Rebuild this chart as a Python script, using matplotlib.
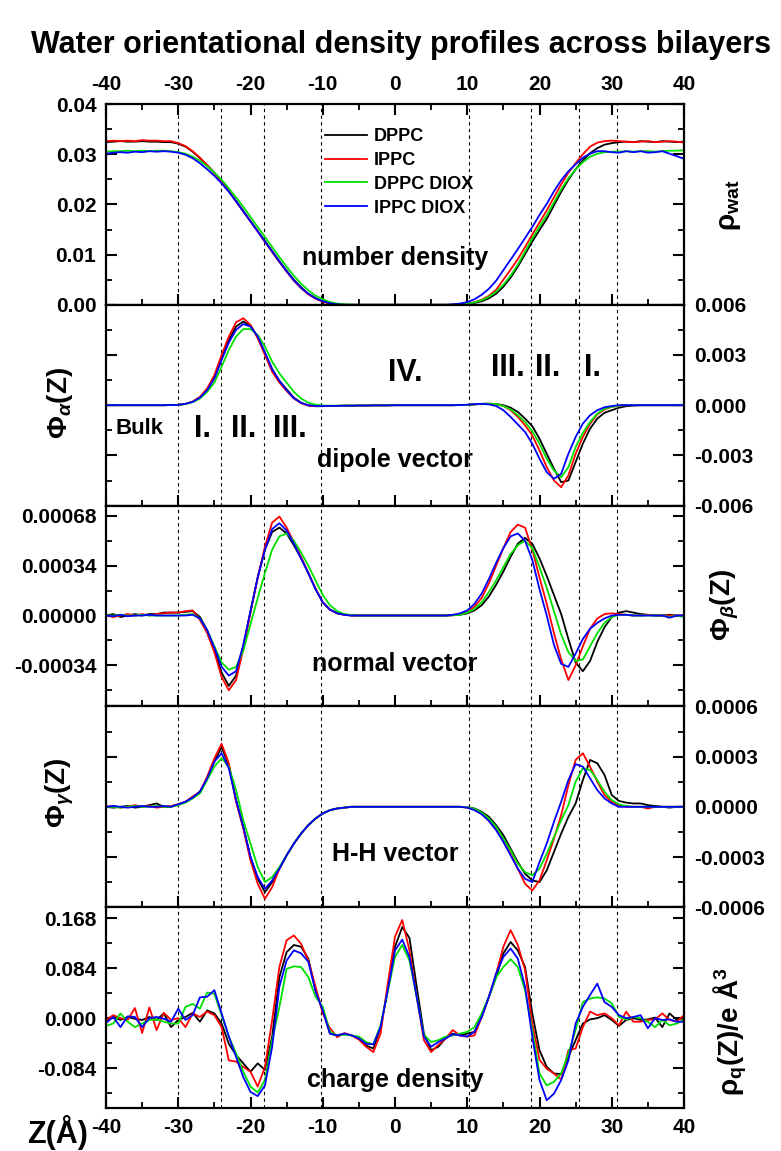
import numpy as np
import matplotlib
matplotlib.use('Agg')
import matplotlib.pyplot as plt
from matplotlib.ticker import MultipleLocator, FormatStrFormatter

W, H = 781, 1151

# distance from bilayer centre (Angstrom)
z = list(range(-40, 41))

series_names = ['DPPC', 'IPPC', 'DPPC DIOX', 'IPPC DIOX']
series_colors = ['black', 'red', '#00e000', 'blue']

# region boundaries (dashed lines)
region_bounds = [-30, -24.1, -18.2, -10.2, 10.3, 18.8, 25.4, 30.7]

# number density, units of 1e-3
DENS_UNIT = 1e-3
dens_dppc = [32.4, 32.5, 32.6, 32.5, 32.5, 32.6, 32.5, 32.5, 32.4, 32.4,
             32.1, 31.5, 30.5, 29.2, 27.8, 26.3, 24.6, 22.7, 20.7, 18.7,
             16.7, 14.7, 12.7, 10.7, 8.7, 6.8, 5.0, 3.5, 2.2, 1.3,
             0.7, 0.3, 0.1, 0, 0, 0, 0, 0, 0, 0,
             0, 0, 0, 0, 0, 0, 0, 0, 0, 0.05,
             0.15, 0.35, 0.7, 1.3, 2.2, 3.6, 5.4, 7.6, 10.1, 12.6,
             14.9, 17.1, 19.8, 22.5, 24.9, 27.0, 28.8, 30.2, 31.2, 31.9,
             32.2, 32.4, 32.5, 32.4, 32.6, 32.5, 32.4, 32.6, 32.5, 32.4,
             32.5]
dens_ippc = [32.6, 32.7, 32.6, 32.7, 32.6, 32.8, 32.7, 32.7, 32.6, 32.6,
             32.2, 31.6, 30.6, 29.3, 27.8, 26.2, 24.5, 22.6, 20.6, 18.6,
             16.6, 14.6, 12.5, 10.5, 8.5, 6.6, 4.8, 3.3, 2.1, 1.2,
             0.6, 0.25, 0.1, 0, 0, 0, 0, 0, 0, 0,
             0, 0, 0, 0, 0, 0, 0, 0, 0, 0.1,
             0.25, 0.5, 1.0, 1.8, 3.0, 5.0, 7.0, 9.1, 11.5, 14.0,
             16.4, 18.8, 21.4, 24.0, 26.3, 28.2, 30.0, 31.5, 32.3, 32.6,
             32.7, 32.6, 32.5, 32.4, 32.5, 32.6, 32.4, 32.5, 32.6, 32.5,
             32.3]
dens_dppc_diox = [30.5, 30.6, 30.6, 30.7, 30.6, 30.7, 30.6, 30.7, 30.7, 30.6,
                  30.4, 30.1, 29.5, 28.7, 27.6, 26.3, 24.9, 23.2, 21.4, 19.5,
                  17.5, 15.5, 13.5, 11.5, 9.5, 7.6, 5.8, 4.2, 2.9, 1.8,
                  1.1, 0.55, 0.25, 0.1, 0.03, 0, 0, 0, 0, 0,
                  0, 0, 0, 0, 0, 0, 0, 0, 0, 0.05,
                  0.2, 0.45, 0.9, 1.6, 2.6, 4.0, 5.8, 8.0, 10.6, 13.2,
                  15.6, 17.8, 20.4, 23.0, 25.2, 27.0, 28.4, 29.5, 30.1, 30.4,
                  30.5, 30.5, 30.6, 30.5, 30.6, 30.6, 30.5, 30.6, 30.7, 30.7,
                  30.8]
dens_ippc_diox = [30.1, 30.3, 30.4, 30.3, 30.5, 30.4, 30.6, 30.5, 30.6, 30.5,
                  30.3, 29.9, 29.2, 28.2, 27.0, 25.7, 24.2, 22.5, 20.6, 18.6,
                  16.6, 14.6, 12.6, 10.6, 8.6, 6.7, 4.9, 3.4, 2.2, 1.3,
                  0.7, 0.3, 0.1, 0, 0, 0, 0, 0, 0, 0,
                  0, 0, 0, 0, 0, 0, 0, 0, 0.1, 0.25,
                  0.55, 1.1, 2.0, 3.2, 4.8, 6.9, 9.0, 11.1, 13.3, 15.5,
                  17.9, 20.1, 22.6, 24.8, 26.6, 28.0, 29.3, 30.1, 30.6, 30.6,
                  30.4, 30.3, 30.6, 30.4, 30.6, 30.3, 30.4, 30.6, 30.1, 29.6,
                  29.1]

# dipole vector, units of 1e-3
DIP_UNIT = 1e-3
dip_dppc = [0, 0, 0, 0, 0, 0, 0, 0, 0, 0.01,
            0.02, 0.08, 0.2, 0.45, 0.9, 1.65, 2.8, 3.9, 4.7, 5.0,
            4.75, 4.1, 3.1, 2.15, 1.45, 0.95, 0.45, 0.15, -0.02, -0.06,
            -0.06, -0.05, -0.04, -0.03, -0.03, -0.02, -0.02, -0.01, -0.01, -0.01,
            0, 0, 0, 0, 0, 0, 0, 0, 0, 0.01,
            0.02, 0.05, 0.08, 0.09, 0.07, 0.0, -0.15, -0.4, -0.8, -1.25,
            -2.0, -2.9, -3.8, -4.6, -4.5, -3.4, -2.3, -1.4, -0.8, -0.45,
            -0.3, -0.15, -0.06, -0.02, 0, 0, 0, 0, 0, 0,
            0]
dip_ippc = [0, 0, 0, 0, 0, 0, 0, 0, 0, 0.01,
            0.02, 0.08, 0.22, 0.5, 1.0, 1.8, 3.0, 4.1, 4.95, 5.2,
            4.8, 4.0, 3.0, 2.0, 1.35, 0.85, 0.4, 0.12, -0.02, -0.06,
            -0.05, -0.05, -0.04, -0.03, -0.03, -0.02, -0.02, -0.01, -0.01, -0.01,
            0, 0, 0, 0, 0, 0, 0, 0, 0, 0.01,
            0.02, 0.05, 0.08, 0.08, 0.06, -0.05, -0.3, -0.7, -1.2, -1.8,
            -2.7, -3.7, -4.5, -4.9, -4.2, -2.9, -1.9, -1.1, -0.55, -0.25,
            -0.1, -0.03, 0, 0, 0, 0, 0, 0, 0, 0,
            0]
dip_dppc_diox = [0, 0, 0, 0, 0, 0, 0, 0, 0, 0.01,
                 0.02, 0.07, 0.18, 0.4, 0.8, 1.35, 2.3, 3.3, 4.1, 4.55,
                 4.55, 4.2, 3.5, 2.6, 1.9, 1.35, 0.8, 0.4, 0.15, 0.03,
                 -0.02, -0.03, -0.03, -0.02, -0.02, -0.02, -0.01, -0.01, -0.01, 0,
                 0, 0, 0, 0, 0, 0, 0, 0, 0, 0.01,
                 0.02, 0.05, 0.08, 0.09, 0.07, -0.05, -0.25, -0.6, -1.0, -1.55,
                 -2.3, -3.2, -3.9, -4.3, -3.7, -2.5, -1.65, -1.0, -0.5, -0.2,
                 -0.1, -0.03, 0, 0, 0, 0, 0, 0, 0, 0,
                 0]
dip_ippc_diox = [0, 0, 0, 0, 0, 0, 0, 0, 0, 0.01,
                 0.02, 0.08, 0.2, 0.45, 0.9, 1.6, 2.7, 3.75, 4.5, 4.85,
                 4.7, 4.1, 3.15, 2.15, 1.45, 0.9, 0.42, 0.14, 0.0, -0.05,
                 -0.05, -0.04, -0.04, -0.03, -0.03, -0.02, -0.02, -0.01, -0.01, -0.01,
                 0, 0, 0, 0, 0, 0, 0, 0, 0, 0.01,
                 0.03, 0.06, 0.08, 0.05, -0.05, -0.3, -0.7, -1.15, -1.6, -2.3,
                 -3.2, -4.0, -4.4, -4.1, -2.9, -1.9, -1.1, -0.6, -0.3, -0.12,
                 -0.05, 0, 0, 0, 0, 0, 0, 0, 0, 0,
                 0]

# normal vector, units of 1e-4
NORM_UNIT = 1e-4
norm_dppc = [0.0, 0.1, -0.1, 0.0, 0.1, 0.0, 0.1, 0.1, 0.2, 0.2,
             0.2, 0.25, 0.3, -0.1, -1.0, -2.3, -3.9, -4.8, -4.1, -2.1,
             0.3, 2.6, 4.5, 5.7, 6.0, 5.6, 4.8, 3.9, 2.9, 1.8,
             0.9, 0.4, 0.15, 0.05, 0, 0, 0, 0, 0, 0,
             0, 0, 0, 0, 0, 0, 0, 0, 0.02, 0.05,
             0.15, 0.35, 0.7, 1.3, 2.1, 3.0, 4.0, 4.9, 5.3, 4.9,
             3.9, 2.7, 1.4, 0.1, -1.6, -3.2, -3.8, -3.1, -1.8, -0.8,
             -0.1, 0.2, 0.3, 0.2, 0.1, 0.05, 0.0, 0.0, 0.05, 0.0,
             0.0]
norm_ippc = [0.0, -0.1, 0.0, 0.1, 0.0, 0.1, 0.0, 0.1, 0.15, 0.2,
             0.2, 0.3, 0.35, -0.3, -1.2, -2.5, -4.2, -5.1, -4.4, -2.3,
             0.2, 2.6, 4.7, 6.35, 6.75, 6.0, 5.0, 4.0, 2.9, 1.85,
             0.9, 0.4, 0.15, 0.05, 0, 0, 0, 0, 0, 0,
             0, 0, 0, 0, 0, 0, 0, 0, 0.02, 0.1,
             0.25, 0.6, 1.2, 2.2, 3.4, 4.6, 5.7, 6.2, 6.0, 4.5,
             2.6, 0.8, -1.2, -3.0, -4.4, -3.4, -2.1, -0.9, -0.2, 0.1,
             0.15, 0.1, 0.05, 0.0, 0.0, 0.05, 0.0, 0.0, 0.0, 0.0,
             0.0]
norm_dppc_diox = [0, 0, 0.05, 0, 0, 0.05, 0, 0, 0, 0,
                  0.0, 0.05, 0.1, -0.2, -1.0, -2.1, -3.2, -3.7, -3.5, -2.4,
                  -0.6, 1.2, 2.9, 4.5, 5.4, 5.6, 5.1, 4.3, 3.4, 2.4,
                  1.4, 0.7, 0.3, 0.1, 0.03, 0, 0, 0, 0, 0,
                  0, 0, 0, 0, 0, 0, 0, 0, 0.02, 0.05,
                  0.2, 0.45, 0.9, 1.6, 2.4, 3.3, 4.2, 4.8, 5.1, 4.6,
                  3.3, 1.9, 0.3, -1.3, -2.5, -3.1, -3.0, -2.1, -1.2, -0.5,
                  -0.1, 0.05, 0.05, 0, 0, 0, 0, 0, -0.1, 0,
                  -0.1]
norm_ippc_diox = [0.0, -0.05, 0.05, -0.05, 0.0, 0.0, 0.05, 0.0, 0.0, 0.0,
                  0.0, 0.0, 0.05, -0.2, -1.0, -2.2, -3.5, -4.1, -3.8, -2.0,
                  0.3, 2.6, 4.5, 5.9, 6.3, 5.8, 4.9, 3.9, 2.9, 1.8,
                  0.9, 0.4, 0.15, 0.05, 0, 0, 0, 0, 0, 0,
                  0, 0, 0, 0, 0, 0, 0, 0, 0.05, 0.15,
                  0.35, 0.8, 1.5, 2.5, 3.6, 4.6, 5.4, 5.6, 5.1, 3.8,
                  1.8, 0.0, -2.0, -3.3, -3.5, -2.6, -1.6, -0.9, -0.5, -0.2,
                  0.0, 0.05, 0.05, 0.0, 0.0, 0.0, 0.0, 0.0, -0.15, 0.0,
                  0.0]

# H-H vector, units of 1e-4
HH_UNIT = 1e-4
hh_dppc = [0.0, -0.05, 0.0, 0.05, -0.05, 0.0, 0.1, 0.2, 0.0, 0.0,
           0.15, 0.3, 0.6, 0.9, 1.7, 2.7, 3.57, 2.5, 0.4, -1.2,
           -3.0, -4.3, -5.1, -4.5, -3.7, -2.9, -2.2, -1.6, -1.1, -0.7,
           -0.4, -0.2, -0.1, -0.05, 0, 0, 0, 0, 0, 0,
           0, 0, 0, 0, 0, 0, 0, 0, 0, 0,
           -0.03, -0.1, -0.3, -0.6, -1.1, -1.7, -2.5, -3.3, -4.0, -4.4,
           -4.5, -3.8, -2.7, -1.6, -0.6, 0.2, 1.6, 2.8, 2.6, 1.9,
           0.7, 0.35, 0.25, 0.2, 0.2, 0.1, 0.05, 0.0, -0.05, 0.0,
           0.0]
hh_ippc = [0.0, 0.05, -0.05, 0.0, 0.1, 0.0, 0.05, -0.05, 0.0, 0.05,
           0.15, 0.3, 0.6, 0.9, 1.8, 2.9, 3.77, 2.6, 0.3, -1.3,
           -3.2, -4.6, -5.5, -4.8, -3.7, -2.9, -2.2, -1.6, -1.1, -0.7,
           -0.4, -0.2, -0.1, -0.05, 0, 0, 0, 0, 0, 0,
           0, 0, 0, 0, 0, 0, 0, 0, 0, 0,
           -0.05, -0.15, -0.4, -0.8, -1.3, -2.0, -2.8, -3.7, -4.6, -5.0,
           -4.4, -3.2, -1.9, -0.5, 1.3, 2.8, 3.2, 2.4, 1.5, 0.7,
           0.3, 0.1, 0.0, 0.0, 0.0, -0.1, 0.0, 0.0, 0.0, 0.0,
           0.0]
hh_dppc_diox = [0.0, 0.0, -0.05, 0.0, 0.05, 0.0, 0.0, 0.05, 0.0, 0.0,
                0.1, 0.25, 0.5, 0.8, 1.6, 2.4, 2.9, 2.4, 1.0, -0.8,
                -2.2, -3.6, -4.5, -4.2, -3.6, -2.9, -2.2, -1.6, -1.1, -0.7,
                -0.4, -0.2, -0.1, -0.05, 0, 0, 0, 0, 0, 0,
                0, 0, 0, 0, 0, 0, 0, 0, 0, 0,
                -0.03, -0.12, -0.35, -0.7, -1.2, -1.9, -2.6, -3.4, -3.9, -4.1,
                -3.7, -2.8, -1.8, -0.8, 0.1, 1.5, 2.3, 2.2, 1.6, 0.9,
                0.4, 0.15, 0.05, 0.0, 0.0, 0.0, 0.0, 0.0, 0.0, 0.0,
                0.0]
hh_ippc_diox = [0.0, 0.05, 0.0, -0.05, 0.0, 0.05, 0.0, 0.0, 0.05, 0.0,
                0.15, 0.3, 0.55, 0.9, 1.7, 2.7, 3.2, 2.3, 0.4, -1.2,
                -3.0, -4.2, -4.9, -4.4, -3.7, -2.9, -2.2, -1.6, -1.1, -0.7,
                -0.4, -0.2, -0.1, -0.05, 0, 0, 0, 0, 0, 0,
                0, 0, 0, 0, 0, 0, 0, 0, 0, 0,
                -0.05, -0.2, -0.45, -0.85, -1.4, -2.1, -2.9, -3.7, -4.3, -4.5,
                -3.3, -2.2, -0.9, 0.3, 1.6, 2.55, 2.4, 1.7, 1.0, 0.5,
                0.2, 0.0, 0.0, 0.0, 0.0, 0.0, 0.0, 0.0, 0.0, 0.0,
                0.0]

# charge density (e / A^3)
chg_dppc = [-0.006, 0.002, -0.003, 0.002, -0.001, -0.003, 0.002, -0.003, 0.008, -0.015,
            -0.003, 0.002, 0.009, -0.006, 0.013, 0.008, -0.009, -0.043, -0.062, -0.076,
            -0.09, -0.076, -0.087, -0.031, 0.069, 0.111, 0.123, 0.12, 0.1, 0.047,
            0.013, -0.026, -0.029, -0.026, -0.029, -0.034, -0.046, -0.051, -0.015, 0.047,
            0.12, 0.153, 0.135, 0.053, -0.026, -0.054, -0.048, -0.034, -0.026, -0.029,
            -0.026, -0.023, 0.002, 0.036, 0.069, 0.109, 0.128, 0.114, 0.086, 0.008,
            -0.054, -0.082, -0.093, -0.094, -0.065, -0.037, -0.009, -0.002, 0.0, 0.005,
            -0.003, -0.013, -0.003, 0.0, -0.003, -0.002, 0.001, -0.015, 0.008, -0.003,
            0.0]
chg_ippc = [-0.003, 0.005, 0.0, -0.003, 0.017, -0.025, 0.018, -0.02, 0.009, -0.003,
            0.0, -0.015, 0.008, 0.002, 0.011, 0.005, -0.015, -0.071, -0.073, -0.082,
            -0.09, -0.115, -0.082, -0.003, 0.086, 0.131, 0.139, 0.125, 0.097, 0.053,
            0.008, -0.017, -0.032, -0.025, -0.029, -0.036, -0.048, -0.057, -0.026, 0.058,
            0.137, 0.165, 0.114, 0.036, -0.037, -0.057, -0.045, -0.034, -0.02, -0.029,
            -0.031, -0.029, 0.002, 0.036, 0.075, 0.12, 0.148, 0.123, 0.081, -0.009,
            -0.07, -0.085, -0.093, -0.103, -0.054, -0.051, -0.015, 0.011, 0.005, 0.008,
            0.0, -0.012, 0.011, -0.006, -0.006, -0.003, -0.002, 0.008, -0.003, -0.006,
            0.005]
chg_dppc_diox = [-0.013, -0.009, 0.008, -0.006, -0.015, -0.009, -0.003, -0.002, -0.006, -0.009,
                 -0.009, 0.019, 0.024, 0.016, 0.043, 0.041, 0.005, -0.031, -0.059, -0.09,
                 -0.115, -0.125, -0.104, -0.037, 0.019, 0.083, 0.087, 0.086, 0.069, 0.036,
                 0.019, -0.023, -0.029, -0.028, -0.029, -0.031, -0.04, -0.044, -0.012, 0.045,
                 0.103, 0.123, 0.097, 0.036, -0.028, -0.04, -0.037, -0.031, -0.029, -0.026,
                 -0.023, -0.015, 0.008, 0.036, 0.069, 0.086, 0.099, 0.086, 0.047, -0.02,
                 -0.093, -0.113, -0.107, -0.093, -0.059, -0.02, 0.027, 0.033, 0.035, 0.033,
                 0.025, 0.002, -0.002, 0.002, 0.0, -0.006, -0.015, -0.003, -0.012, -0.009,
                 -0.003]
chg_ippc_diox = [-0.008, 0.002, -0.015, 0.003, 0.002, -0.015, 0.0, 0.002, -0.001, -0.006,
                 0.016, -0.003, 0.005, 0.035, 0.036, 0.047, 0.008, -0.031, -0.065, -0.099,
                 -0.124, -0.131, -0.113, -0.048, 0.053, 0.097, 0.114, 0.109, 0.095, 0.045,
                 0.013, -0.026, -0.029, -0.026, -0.029, -0.034, -0.043, -0.044, -0.015, 0.047,
                 0.114, 0.132, 0.103, 0.036, -0.031, -0.048, -0.04, -0.034, -0.027, -0.029,
                 -0.031, -0.023, 0.002, 0.036, 0.075, 0.103, 0.117, 0.1, 0.053, -0.031,
                 -0.104, -0.138, -0.127, -0.104, -0.071, -0.009, 0.019, 0.039, 0.058, 0.027,
                 0.019, 0.005, 0.0, 0.002, 0.005, -0.017, 0.0, -0.003, -0.002, -0.006,
                 -0.006]

plt.rcParams['font.family'] = ['Liberation Sans', 'DejaVu Sans']
plt.rcParams['font.weight'] = 'bold'
plt.rcParams['axes.unicode_minus'] = False
plt.rcParams['mathtext.fontset'] = 'custom'
plt.rcParams['mathtext.rm'] = 'Liberation Sans'
plt.rcParams['mathtext.it'] = 'Liberation Sans:italic'
plt.rcParams['mathtext.bf'] = 'Liberation Sans:bold'

TICK_SIZE = 15


def fx(px):
    return px / W


def fy(py):
    return 1 - py / H


fig = plt.figure(figsize=(W / 100, H / 100), dpi=100)

panel_top = [104, 304.8, 505.6, 706.4, 907.2]
panel_h = 200.8
axes = []
for top in panel_top:
    ax = fig.add_axes([fx(106), fy(top + panel_h), 578 / W, panel_h / H])
    axes.append(ax)

panels = [
    (DENS_UNIT, [dens_dppc, dens_ippc, dens_dppc_diox, dens_ippc_diox]),
    (DIP_UNIT, [dip_dppc, dip_ippc, dip_dppc_diox, dip_ippc_diox]),
    (NORM_UNIT, [norm_dppc, norm_ippc, norm_dppc_diox, norm_ippc_diox]),
    (HH_UNIT, [hh_dppc, hh_ippc, hh_dppc_diox, hh_ippc_diox]),
    (1.0, [chg_dppc, chg_ippc, chg_dppc_diox, chg_ippc_diox]),
]

ylims = [(0, 0.04), (-0.006, 0.006), (-0.00062, 0.00075), (-0.0006, 0.0006), (-0.151, 0.1865)]
ymajor = [0.01, 0.003, 0.00034, 0.0003, 0.084]
yfmt = ['%.2f', '%.3f', '%.5f', '%.4f', '%.3f']
label_right = [False, True, False, True, False]

for i, ax in enumerate(axes):
    unit, data = panels[i]
    for vals, name, col in zip(data, series_names, series_colors):
        ax.plot(z, np.array(vals) * unit, color=col, lw=1.3, label=name)
    for xb in region_bounds:
        ax.axvline(xb, color='black', lw=0.8, ls=(0, (3, 3)), zorder=0)

    ax.set_xlim(-40, 40)
    ax.set_ylim(*ylims[i])
    ax.xaxis.set_major_locator(MultipleLocator(10))
    ax.xaxis.set_minor_locator(MultipleLocator(5))
    ax.yaxis.set_major_locator(MultipleLocator(ymajor[i]))
    ax.yaxis.set_minor_locator(MultipleLocator(ymajor[i] / 2))
    ax.yaxis.set_major_formatter(FormatStrFormatter(yfmt[i]))
    for sp in ax.spines.values():
        sp.set_linewidth(1.6)

    ax.tick_params(which='both', direction='in', left=True, right=True,
                   top=(i == 0), bottom=True,
                   labeltop=(i == 0), labelbottom=(i == 4),
                   labelleft=not label_right[i], labelright=label_right[i],
                   labelsize=TICK_SIZE, pad=7)
    ax.tick_params(which='major', length=8, width=1.5)
    ax.tick_params(which='minor', length=4.5, width=1.3)
    for lab in ax.get_xticklabels() + ax.get_yticklabels():
        lab.set_fontweight('bold')

ax1, ax2, ax3, ax4, ax5 = axes

leg = ax1.legend(loc='upper left', bbox_to_anchor=(0.379, 0.88), frameon=False,
                 borderpad=0, borderaxespad=0, handlelength=2.3,
                 handletextpad=0.4, labelspacing=0.38,
                 prop={'weight': 'bold', 'size': 13})

ann = dict(ha='center', va='center', fontweight='bold')
ax1.text(0, 0.0094, 'number density', fontsize=18, **ann)
ax2.text(0, -0.0033, 'dipole vector', fontsize=18, **ann)
ax3.text(0, -0.00033, 'normal vector', fontsize=18, **ann)
ax4.text(0, -0.00028, 'H-H vector', fontsize=18, **ann)
ax5.text(0, -0.104, 'charge density', fontsize=18, **ann)

ax2.text(-35.3, -0.0014, 'Bulk', fontsize=16, **ann)
for xr, lab in [(-26.6, 'I.'), (-21.0, 'II.'), (-14.6, 'III.')]:
    ax2.text(xr, -0.0014, lab, fontsize=22, **ann)
ax2.text(1.4, 0.0019, 'IV.', fontsize=22, **ann)
for xr, lab in [(15.6, 'III.'), (21.2, 'II.'), (27.3, 'I.')]:
    ax2.text(xr, 0.0022, lab, fontsize=22, **ann)

# axis titles
fig.text(fx(401), fy(45), 'Water orientational density profiles across bilayers',
         ha='center', va='center', fontsize=22, fontweight='bold')
fig.text(fx(730), fy(205), r'$\mathrm{\rho}_{\mathbf{wat}}$', rotation=90,
         ha='center', va='center', fontsize=20)
fig.text(fx(60), fy(403), r'$\Phi_\alpha$(Z)', rotation=90,
         ha='center', va='center', fontsize=20, fontweight='bold')
fig.text(fx(725), fy(605), r'$\Phi_\beta$(Z)', rotation=90,
         ha='center', va='center', fontsize=20, fontweight='bold')
fig.text(fx(60), fy(793), r'$\Phi_\gamma$(Z)', rotation=90,
         ha='center', va='center', fontsize=20, fontweight='bold')
fig.text(fx(730), fy(1032), r'$\mathrm{\rho}_{\mathbf{q}}$(Z)/e Å$^{\mathbf{3}}$', rotation=90,
         ha='center', va='center', fontsize=20, fontweight='bold')
fig.text(fx(27), fy(1133), 'Z(Å)', ha='left', va='center',
         fontsize=22, fontweight='bold')

fig.savefig('out.png', dpi=100)
